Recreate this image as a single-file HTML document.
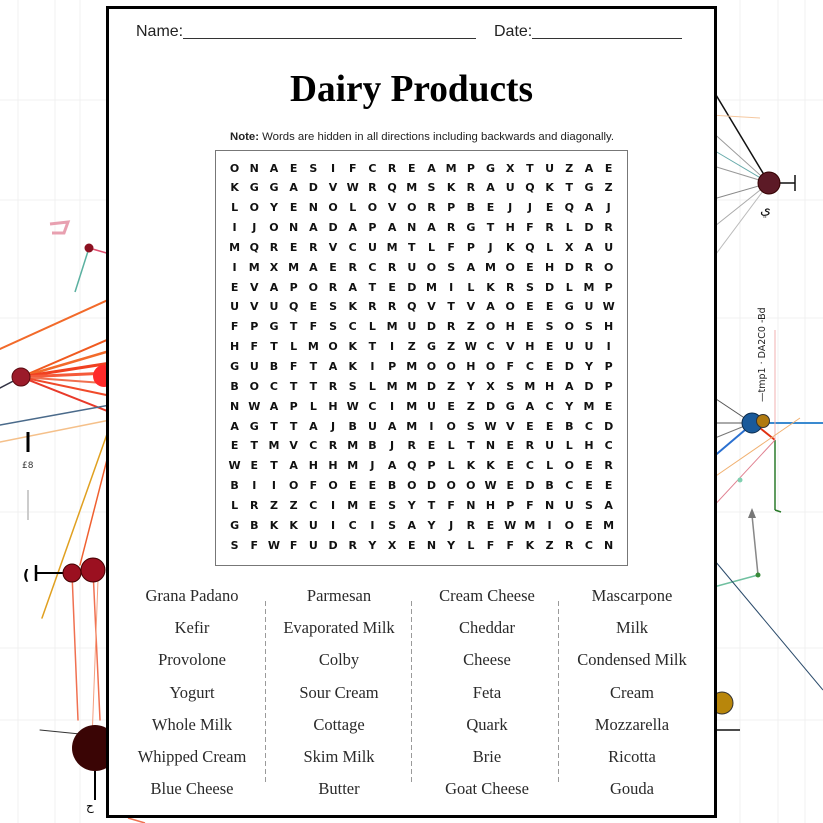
<!DOCTYPE html>
<html><head><meta charset="utf-8">
<style>
html,body{margin:0;padding:0;}
body{width:823px;height:823px;position:relative;overflow:hidden;background:#fff;font-family:"Liberation Sans",sans-serif;}
#bg{position:absolute;left:0;top:0;}
#page{position:absolute;left:106px;top:6px;width:611px;height:812px;box-sizing:border-box;border:3px solid #000;background:#fff;}
.t{position:absolute;white-space:nowrap;}
.hdr{font-size:16px;line-height:16px;color:#222;}
.ul{position:absolute;height:0;border-bottom:1px solid #333;}
#title{font-family:"Liberation Serif",serif;font-weight:bold;font-size:38px;line-height:38px;color:#000;top:70px;left:290px;transform-origin:0 50%;}
#note{font-size:11px;line-height:11px;color:#222;top:131.6px;left:230px;transform-origin:0 50%;}
#gridbox{position:absolute;left:215px;top:150px;width:413px;height:416px;box-sizing:border-box;border:1.5px solid #777;}
.row{position:absolute;left:224.75px;height:19.84px;line-height:19.84px;font-family:"DejaVu Sans","Liberation Sans",sans-serif;font-weight:bold;font-size:11px;color:#111;white-space:nowrap;}
.row span{display:inline-block;width:19.7px;text-align:center;}
.w{position:absolute;width:160px;text-align:center;font-family:"Liberation Serif",serif;font-size:16.5px;line-height:20px;color:#2a2a2a;white-space:nowrap;}
#ov{position:absolute;left:0;top:0;}
</style></head><body>
<svg id="bg" width="823" height="823" viewBox="0 0 823 823" xmlns="http://www.w3.org/2000/svg">
<g stroke="#f1f1f1" stroke-width="1" fill="none">
<line x1="18" y1="0" x2="18" y2="823"/><line x1="55" y1="0" x2="55" y2="823"/><line x1="80" y1="0" x2="80" y2="823"/>
<line x1="740" y1="0" x2="740" y2="823"/><line x1="778" y1="0" x2="778" y2="823"/><line x1="805" y1="0" x2="805" y2="823"/>
<line x1="0" y1="100" x2="823" y2="100"/><line x1="0" y1="200" x2="823" y2="200"/><line x1="0" y1="318" x2="823" y2="318"/>
<line x1="0" y1="512" x2="823" y2="512"/><line x1="0" y1="648" x2="823" y2="648"/><line x1="0" y1="720" x2="823" y2="720"/>
</g>
<path d="M50,224 L68,222 L64,233 L52,233" stroke="#e8a0b0" stroke-width="3" fill="none"/>
<line x1="89" y1="248" x2="75" y2="292" stroke="#5ab0a0" stroke-width="1.5"/>
<line x1="89" y1="248" x2="110" y2="254" stroke="#e05070" stroke-width="1.5"/>
<circle cx="89" cy="248" r="4.5" fill="#8b1020"/>
<g stroke-linecap="round">
<line x1="0" y1="349" x2="130" y2="290" stroke="#f26a2a" stroke-width="2"/>
<line x1="21" y1="377" x2="130" y2="330" stroke="#f05a20" stroke-width="2"/>
<line x1="21" y1="377" x2="130" y2="345" stroke="#f26a2a" stroke-width="2.5"/>
<line x1="21" y1="377" x2="130" y2="360" stroke="#f04020" stroke-width="3"/>
<line x1="21" y1="377" x2="130" y2="372" stroke="#f55a3a" stroke-width="3"/>
<line x1="21" y1="377" x2="130" y2="385" stroke="#f07050" stroke-width="2"/>
<line x1="21" y1="377" x2="130" y2="400" stroke="#f04a2a" stroke-width="2"/>
<line x1="21" y1="377" x2="130" y2="420" stroke="#e83a2a" stroke-width="2"/>
<line x1="0" y1="388" x2="21" y2="377" stroke="#334" stroke-width="1.5"/>
<line x1="0" y1="425" x2="110" y2="405" stroke="#4a6a8a" stroke-width="1.5"/>
<line x1="0" y1="442" x2="110" y2="420" stroke="#f5c08a" stroke-width="1.5"/>
<line x1="112" y1="420" x2="42" y2="618" stroke="#e0a020" stroke-width="1.5"/>
<line x1="112" y1="440" x2="80" y2="565" stroke="#f06030" stroke-width="1.5"/>
<line x1="72" y1="573" x2="78" y2="720" stroke="#f07050" stroke-width="1.5"/>
<line x1="93" y1="570" x2="100" y2="720" stroke="#f07050" stroke-width="1.5"/>
<line x1="98" y1="580" x2="92" y2="740" stroke="#f5a080" stroke-width="1"/>
<line x1="40" y1="730" x2="90" y2="735" stroke="#333" stroke-width="1"/>
</g>
<circle cx="104" cy="376" r="11" fill="#ff2a2a"/>
<circle cx="21" cy="377" r="9" fill="#9b1b2a" stroke="#5a0a10" stroke-width="1"/>
<line x1="28" y1="432" x2="28" y2="452" stroke="#000" stroke-width="3"/>
<text x="22" y="468" font-size="9" font-family="DejaVu Sans" fill="#333">£8</text>
<line x1="28" y1="490" x2="28" y2="520" stroke="#ccc" stroke-width="2"/>
<line x1="36" y1="573" x2="63" y2="573" stroke="#000" stroke-width="2"/>
<line x1="36" y1="565" x2="36" y2="581" stroke="#000" stroke-width="2.5"/>
<text x="23" y="580" font-size="14" font-family="DejaVu Sans" font-weight="bold" fill="#000">(</text>
<circle cx="72" cy="573" r="9" fill="#9b1020" stroke="#400" stroke-width="1"/>
<circle cx="93" cy="570" r="12" fill="#9b1020" stroke="#400" stroke-width="1"/>
<circle cx="95" cy="748" r="23" fill="#3a0505"/>
<line x1="95" y1="771" x2="95" y2="800" stroke="#000" stroke-width="2"/>
<text x="86" y="810" font-size="12" font-family="DejaVu Sans" fill="#000">ح</text>
<g stroke-width="1" fill="none">
<line x1="710" y1="85" x2="769" y2="183" stroke="#111" stroke-width="1.5"/>
<line x1="769" y1="183" x2="710" y2="130" stroke="#999"/>
<line x1="769" y1="183" x2="710" y2="148" stroke="#6aa"/>
<line x1="769" y1="183" x2="710" y2="165" stroke="#999"/>
<line x1="769" y1="183" x2="710" y2="200" stroke="#888"/>
<line x1="769" y1="183" x2="710" y2="230" stroke="#aaa"/>
<line x1="769" y1="183" x2="710" y2="262" stroke="#bbb"/>
<line x1="710" y1="115" x2="760" y2="118" stroke="#f5c8a0"/>
<line x1="780" y1="183" x2="795" y2="183" stroke="#111" stroke-width="1.5"/>
<line x1="795" y1="175" x2="795" y2="191" stroke="#111" stroke-width="1.5"/>
<line x1="752" y1="423" x2="710" y2="395" stroke="#555"/>
<line x1="752" y1="423" x2="710" y2="423" stroke="#555"/>
<line x1="752" y1="423" x2="710" y2="440" stroke="#777"/>
<line x1="760" y1="423" x2="823" y2="423" stroke="#3a8ad0" stroke-width="2"/>
<line x1="712" y1="458" x2="745" y2="430" stroke="#2a70d0" stroke-width="2"/>
<line x1="760" y1="428" x2="775" y2="440" stroke="#e03010" stroke-width="2"/>
<line x1="775" y1="440" x2="775" y2="510" stroke="#2a7a2a" stroke-width="1.5"/>
<line x1="775" y1="510" x2="781" y2="512" stroke="#2a7a2a" stroke-width="1.5"/>
<line x1="775" y1="330" x2="775" y2="440" stroke="#f0b0b0"/>
<line x1="710" y1="480" x2="800" y2="418" stroke="#f0b070"/>
<line x1="710" y1="510" x2="775" y2="440" stroke="#e08090"/>
<line x1="752" y1="515" x2="758" y2="575" stroke="#888" stroke-width="1.5"/>
<line x1="710" y1="588" x2="758" y2="575" stroke="#70c0a0" stroke-width="1.5"/>
<line x1="710" y1="555" x2="823" y2="690" stroke="#2a4a6a"/>
<line x1="717" y1="730" x2="740" y2="730" stroke="#111" stroke-width="1.5"/>
</g>
<circle cx="769" cy="183" r="11" fill="#5c1a26" stroke="#300" stroke-width="1"/>
<text x="760" y="214" font-size="14" font-family="DejaVu Sans" fill="#111">ي</text>
<text transform="translate(765,402) rotate(-90)" font-size="9.5" font-family="DejaVu Sans" fill="#222">—tmp1 · DA2C0 -Bd</text>
<circle cx="752" cy="423" r="10" fill="#1a5a9a" stroke="#0a2a4a" stroke-width="1"/>
<circle cx="763" cy="421" r="6.5" fill="#b07a10" stroke="#333" stroke-width="1"/>
<path d="M748,518 L752,508 L756,518 Z" fill="#777"/>
<circle cx="758" cy="575" r="2.5" fill="#3a8a3a"/>
<circle cx="740" cy="480" r="2.5" fill="#80d0b0"/>
<circle cx="722" cy="703" r="11" fill="#b8860b" stroke="#333" stroke-width="1"/>
<line x1="128" y1="818" x2="145" y2="823" stroke="#f07050" stroke-width="1.5"/>
</svg>

<div id="page"></div>

<div class="t hdr" id="nm" style="left:136px;top:23.5px;">Name:</div>
<div class="ul" style="left:183px;width:293px;top:38px;"></div>
<div class="t hdr" id="dt" style="left:494px;top:23.5px;">Date:</div>
<div class="ul" style="left:532px;width:150px;top:38px;"></div>

<div class="t" id="title">Dairy Products</div>
<div class="t" id="note"><b>Note:</b> Words are hidden in all directions including backwards and diagonally.</div>

<div id="gridbox"></div>
<div class="row" style="top:158.58px"><span>O</span><span>N</span><span>A</span><span>E</span><span>S</span><span>I</span><span>F</span><span>C</span><span>R</span><span>E</span><span>A</span><span>M</span><span>P</span><span>G</span><span>X</span><span>T</span><span>U</span><span>Z</span><span>A</span><span>E</span></div>
<div class="row" style="top:178.42px"><span>K</span><span>G</span><span>G</span><span>A</span><span>D</span><span>V</span><span>W</span><span>R</span><span>Q</span><span>M</span><span>S</span><span>K</span><span>R</span><span>A</span><span>U</span><span>Q</span><span>K</span><span>T</span><span>G</span><span>Z</span></div>
<div class="row" style="top:198.26px"><span>L</span><span>O</span><span>Y</span><span>E</span><span>N</span><span>O</span><span>L</span><span>O</span><span>V</span><span>O</span><span>R</span><span>P</span><span>B</span><span>E</span><span>J</span><span>J</span><span>E</span><span>Q</span><span>A</span><span>J</span></div>
<div class="row" style="top:218.1px"><span>I</span><span>J</span><span>O</span><span>N</span><span>A</span><span>D</span><span>A</span><span>P</span><span>A</span><span>N</span><span>A</span><span>R</span><span>G</span><span>T</span><span>H</span><span>F</span><span>R</span><span>L</span><span>D</span><span>R</span></div>
<div class="row" style="top:237.94px"><span>M</span><span>Q</span><span>R</span><span>E</span><span>R</span><span>V</span><span>C</span><span>U</span><span>M</span><span>T</span><span>L</span><span>F</span><span>P</span><span>J</span><span>K</span><span>Q</span><span>L</span><span>X</span><span>A</span><span>U</span></div>
<div class="row" style="top:257.78px"><span>I</span><span>M</span><span>X</span><span>M</span><span>A</span><span>E</span><span>R</span><span>C</span><span>R</span><span>U</span><span>O</span><span>S</span><span>A</span><span>M</span><span>O</span><span>E</span><span>H</span><span>D</span><span>R</span><span>O</span></div>
<div class="row" style="top:277.62px"><span>E</span><span>V</span><span>A</span><span>P</span><span>O</span><span>R</span><span>A</span><span>T</span><span>E</span><span>D</span><span>M</span><span>I</span><span>L</span><span>K</span><span>R</span><span>S</span><span>D</span><span>L</span><span>M</span><span>P</span></div>
<div class="row" style="top:297.46px"><span>U</span><span>V</span><span>U</span><span>Q</span><span>E</span><span>S</span><span>K</span><span>R</span><span>R</span><span>Q</span><span>V</span><span>T</span><span>V</span><span>A</span><span>O</span><span>E</span><span>E</span><span>G</span><span>U</span><span>W</span></div>
<div class="row" style="top:317.3px"><span>F</span><span>P</span><span>G</span><span>T</span><span>F</span><span>S</span><span>C</span><span>L</span><span>M</span><span>U</span><span>D</span><span>R</span><span>Z</span><span>O</span><span>H</span><span>E</span><span>S</span><span>O</span><span>S</span><span>H</span></div>
<div class="row" style="top:337.14px"><span>H</span><span>F</span><span>T</span><span>L</span><span>M</span><span>O</span><span>K</span><span>T</span><span>I</span><span>Z</span><span>G</span><span>Z</span><span>W</span><span>C</span><span>V</span><span>H</span><span>E</span><span>U</span><span>U</span><span>I</span></div>
<div class="row" style="top:356.98px"><span>G</span><span>U</span><span>B</span><span>F</span><span>T</span><span>A</span><span>K</span><span>I</span><span>P</span><span>M</span><span>O</span><span>O</span><span>H</span><span>O</span><span>F</span><span>C</span><span>E</span><span>D</span><span>Y</span><span>P</span></div>
<div class="row" style="top:376.82px"><span>B</span><span>O</span><span>C</span><span>T</span><span>T</span><span>R</span><span>S</span><span>L</span><span>M</span><span>M</span><span>D</span><span>Z</span><span>Y</span><span>X</span><span>S</span><span>M</span><span>H</span><span>A</span><span>D</span><span>P</span></div>
<div class="row" style="top:396.66px"><span>N</span><span>W</span><span>A</span><span>P</span><span>L</span><span>H</span><span>W</span><span>C</span><span>I</span><span>M</span><span>U</span><span>E</span><span>Z</span><span>D</span><span>G</span><span>A</span><span>C</span><span>Y</span><span>M</span><span>E</span></div>
<div class="row" style="top:416.5px"><span>A</span><span>G</span><span>T</span><span>T</span><span>A</span><span>J</span><span>B</span><span>U</span><span>A</span><span>M</span><span>I</span><span>O</span><span>S</span><span>W</span><span>V</span><span>E</span><span>E</span><span>B</span><span>C</span><span>D</span></div>
<div class="row" style="top:436.34px"><span>E</span><span>T</span><span>M</span><span>V</span><span>C</span><span>R</span><span>M</span><span>B</span><span>J</span><span>R</span><span>E</span><span>L</span><span>T</span><span>N</span><span>E</span><span>R</span><span>U</span><span>L</span><span>H</span><span>C</span></div>
<div class="row" style="top:456.18px"><span>W</span><span>E</span><span>T</span><span>A</span><span>H</span><span>H</span><span>M</span><span>J</span><span>A</span><span>Q</span><span>P</span><span>L</span><span>K</span><span>K</span><span>E</span><span>C</span><span>L</span><span>O</span><span>E</span><span>R</span></div>
<div class="row" style="top:476.02px"><span>B</span><span>I</span><span>I</span><span>O</span><span>F</span><span>O</span><span>E</span><span>E</span><span>B</span><span>O</span><span>D</span><span>O</span><span>O</span><span>W</span><span>E</span><span>D</span><span>B</span><span>C</span><span>E</span><span>E</span></div>
<div class="row" style="top:495.86px"><span>L</span><span>R</span><span>Z</span><span>Z</span><span>C</span><span>I</span><span>M</span><span>E</span><span>S</span><span>Y</span><span>T</span><span>F</span><span>N</span><span>H</span><span>P</span><span>F</span><span>N</span><span>U</span><span>S</span><span>A</span></div>
<div class="row" style="top:515.7px"><span>G</span><span>B</span><span>K</span><span>K</span><span>U</span><span>I</span><span>C</span><span>I</span><span>S</span><span>A</span><span>Y</span><span>J</span><span>R</span><span>E</span><span>W</span><span>M</span><span>I</span><span>O</span><span>E</span><span>M</span></div>
<div class="row" style="top:535.54px"><span>S</span><span>F</span><span>W</span><span>F</span><span>U</span><span>D</span><span>R</span><span>Y</span><span>X</span><span>E</span><span>N</span><span>Y</span><span>L</span><span>F</span><span>F</span><span>K</span><span>Z</span><span>R</span><span>C</span><span>N</span></div>

<div class="w" style="left:112px;top:586px">Grana Padano</div>
<div class="w" style="left:112px;top:618.2px">Kefir</div>
<div class="w" style="left:112px;top:650.4px">Provolone</div>
<div class="w" style="left:112px;top:682.6px">Yogurt</div>
<div class="w" style="left:112px;top:714.8px">Whole Milk</div>
<div class="w" style="left:112px;top:747px">Whipped Cream</div>
<div class="w" style="left:112px;top:779.2px">Blue Cheese</div>

<div class="w" style="left:259px;top:586px">Parmesan</div>
<div class="w" style="left:259px;top:618.2px">Evaporated Milk</div>
<div class="w" style="left:259px;top:650.4px">Colby</div>
<div class="w" style="left:259px;top:682.6px">Sour Cream</div>
<div class="w" style="left:259px;top:714.8px">Cottage</div>
<div class="w" style="left:259px;top:747px">Skim Milk</div>
<div class="w" style="left:259px;top:779.2px">Butter</div>

<div class="w" style="left:407px;top:586px">Cream Cheese</div>
<div class="w" style="left:407px;top:618.2px">Cheddar</div>
<div class="w" style="left:407px;top:650.4px">Cheese</div>
<div class="w" style="left:407px;top:682.6px">Feta</div>
<div class="w" style="left:407px;top:714.8px">Quark</div>
<div class="w" style="left:407px;top:747px">Brie</div>
<div class="w" style="left:407px;top:779.2px">Goat Cheese</div>

<div class="w" style="left:552px;top:586px">Mascarpone</div>
<div class="w" style="left:552px;top:618.2px">Milk</div>
<div class="w" style="left:552px;top:650.4px">Condensed Milk</div>
<div class="w" style="left:552px;top:682.6px">Cream</div>
<div class="w" style="left:552px;top:714.8px">Mozzarella</div>
<div class="w" style="left:552px;top:747px">Ricotta</div>
<div class="w" style="left:552px;top:779.2px">Gouda</div>

<svg id="ov" width="823" height="823" viewBox="0 0 823 823" xmlns="http://www.w3.org/2000/svg">
<g stroke="#9a9a9a" stroke-width="1" stroke-dasharray="5,3">
<line x1="265.5" y1="601" x2="265.5" y2="782"/>
<line x1="411.5" y1="601" x2="411.5" y2="782"/>
<line x1="558.5" y1="601" x2="558.5" y2="782"/>
</g>
</svg>

<script>
function fit(id,w){var e=document.getElementById(id);var cw=e.getBoundingClientRect().width;if(cw>0)e.style.transform='scaleX('+(w/cw)+')';}
fit('title',243);
fit('note',384);
</script>
</body></html>
